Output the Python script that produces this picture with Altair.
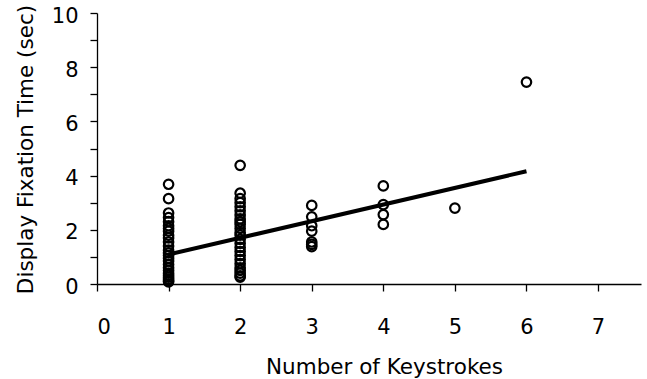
import altair as alt
import pandas as pd

# Display fixation time (sec) observed at each keystroke count
one_key = [3.68, 3.15, 2.62, 2.45, 2.3, 2.15, 2.05, 1.95, 1.8, 1.7, 1.55, 1.4,
           1.25, 1.15, 1.05, 0.95, 0.85, 0.72, 0.6, 0.5, 0.4, 0.32, 0.25, 0.18,
           0.12, 0.08]
two_keys = [4.38, 3.35, 3.15, 3.0, 2.85, 2.7, 2.55, 2.4, 2.3, 2.2, 2.05, 1.9,
            1.8, 1.65, 1.5, 1.35, 1.2, 1.05, 0.9, 0.75, 0.6, 0.5, 0.4, 0.3, 0.25]
three_keys = [2.9, 2.48, 2.15, 1.95, 1.55, 1.46, 1.38]
four_keys = [3.62, 2.93, 2.56, 2.2]
five_keys = [2.8]
six_keys = [7.45]

# Linear trend endpoints
trend_x = [1, 6]
trend_y = [1.09, 4.16]

x_ticks = [0, 1, 2, 3, 4, 5, 6, 7]
y_ticks = [0, 1, 2, 3, 4, 5, 6, 7, 8, 9, 10]

groups = [(1, one_key), (2, two_keys), (3, three_keys),
          (4, four_keys), (5, five_keys), (6, six_keys)]
points = pd.DataFrame(
    [(k, v) for k, vals in groups for v in vals],
    columns=["keystrokes", "fixation"],
)
trend = pd.DataFrame({"keystrokes": trend_x, "fixation": trend_y})

FONT = "DejaVu Sans"

x_enc = alt.X(
    "keystrokes:Q",
    scale=alt.Scale(domain=[0, 7.6], nice=False, zero=False),
    axis=alt.Axis(
        title="Number of Keystrokes",
        values=x_ticks,
        grid=False,
        tickSize=7,
        tickWidth=1.3,
        tickColor="black",
        domainColor="black",
        domainWidth=1.3,
        labelFont=FONT,
        labelFontSize=21,
        labelColor="black",
        labelPadding=25,
        titleFont=FONT,
        titleFontSize=21.5,
        titleFontWeight="normal",
        titleColor="black",
        titleAnchor="start",
        titleAlign="center",
        titleBaseline="alphabetic",
        titleX=287,
        titleY=89,
    ),
)

y_enc = alt.Y(
    "fixation:Q",
    scale=alt.Scale(domain=[0, 10], nice=False),
    axis=alt.Axis(
        title="Display Fixation Time (sec)",
        values=y_ticks,
        labelExpr="datum.value % 2 == 0 ? datum.label : ''",
        grid=False,
        tickSize=7,
        tickWidth=1.3,
        tickColor="black",
        domainColor="black",
        domainWidth=1.3,
        labelFont=FONT,
        labelFontSize=21,
        labelColor="black",
        labelPadding=12,
        labelOffset=3,
        titleFont=FONT,
        titleFontSize=21.5,
        titleFontWeight="normal",
        titleColor="black",
        titleAngle=-90,
        titleAlign="center",
        titleBaseline="alphabetic",
        titleX=-65,
        titleY=136,
    ),
)

scatter = alt.Chart(points).mark_point(
    shape="circle", filled=False, color="black", strokeWidth=2.2, size=90, opacity=1
).encode(x=x_enc, y=y_enc)

fit_line = alt.Chart(trend).mark_line(color="black", strokeWidth=4).encode(
    x=x_enc, y=y_enc
)

chart = (
    alt.layer(fit_line, scatter)
    .properties(
        width=544,
        height=271,
        autosize="none",
        padding={"left": 97, "top": 13, "right": 6, "bottom": 95},
        background="white",
    )
    .configure_view(stroke=None)
)

chart.save("out.html", embed_options={"renderer": "svg", "actions": False})
